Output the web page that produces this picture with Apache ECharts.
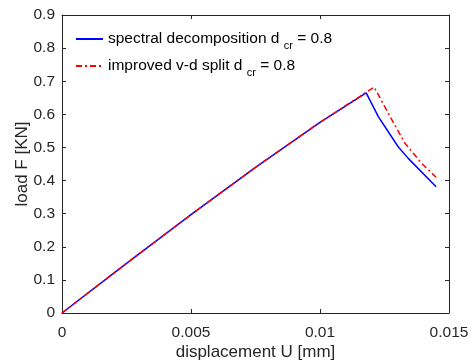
<!DOCTYPE html>
<html><head><meta charset="utf-8">
<script src="https://cdn.jsdelivr.net/npm/echarts@6/dist/echarts.min.js"></script>
<style>html,body{margin:0;padding:0;background:#fff}#c{width:473px;height:362px}</style>
</head><body><div id="c"></div>
<script>
var spectralU = [0, 0.0025, 0.005, 0.0075, 0.01, 0.01179, 0.01226, 0.01303, 0.01342, 0.0145];
var spectralF = [0, 0.150, 0.297, 0.440, 0.576, 0.665, 0.593, 0.502, 0.467, 0.381];
var improvedU = [0, 0.0025, 0.005, 0.0075, 0.01, 0.0121, 0.01265, 0.01329, 0.01394, 0.0145];
var improvedF = [0, 0.150, 0.297, 0.440, 0.576, 0.682, 0.603, 0.513, 0.452, 0.410];
var seriesNames = ['spectral decomposition d_cr = 0.8', 'improved v-d split d_cr = 0.8'];
var xTicks = [0, 0.005, 0.01, 0.015];
var yTicks = [0, 0.1, 0.2, 0.3, 0.4, 0.5, 0.6, 0.7, 0.8, 0.9];

function zip(a, b) { return a.map(function (v, i) { return [v, b[i]]; }); }
var FONT = '"Liberation Sans", Arial, sans-serif';
var TXT = '#262626';
var chart = echarts.init(document.getElementById('c'), null, { renderer: 'canvas' });
var axisCommon = {
  axisLine: { show: true, onZero: false, lineStyle: { color: TXT, width: 1 } },
  axisTick: { show: true, inside: true, length: 4, lineStyle: { color: TXT } },
  splitLine: { show: false }
};
chart.setOption({
  animation: false,
  textStyle: { fontFamily: FONT },
  grid: { left: 62, right: 24, top: 15, bottom: 49, containLabel: false, outerBoundsMode: 'none' },
  legend: {
    left: 70, top: 22, orient: 'vertical', itemWidth: 27, itemHeight: 10, itemGap: 3,
    itemStyle: { opacity: 0 },
    data: seriesNames,
    formatter: function (n) {
      var p = n.split('_cr');
      return '{a|' + p[0] + ' }{s|cr}{a|' + p[1] + '}';
    },
    textStyle: {
      color: '#000', fontSize: 15.5, fontFamily: FONT,
      rich: {
        a: { fontSize: 15.5, color: '#000', fontFamily: FONT, lineHeight: 18 },
        s: { fontSize: 11, color: '#000', fontFamily: FONT, padding: [13, 0, 0, 0], lineHeight: 14 }
      }
    }
  },
  xAxis: [
    Object.assign({
      type: 'value', min: 0, max: 0.015, interval: 0.005, position: 'bottom',
      name: 'displacement U [mm]', nameLocation: 'middle', nameGap: 31, nameMoveOverlap: false,
      nameTextStyle: { color: TXT, fontSize: 17, fontFamily: FONT },
      axisLabel: { color: TXT, fontSize: 15.5, margin: 12, fontFamily: FONT,
        formatter: function (v) { return xTicks.indexOf(+v.toFixed(3)) >= 0 ? String(+v.toFixed(3)) : ''; } }
    }, axisCommon),
    Object.assign({
      type: 'value', min: 0, max: 0.015, interval: 0.005, position: 'top',
      axisLabel: { show: false }
    }, axisCommon)
  ],
  yAxis: [
    Object.assign({
      type: 'value', min: 0, max: 0.9, interval: 0.1, position: 'left',
      name: 'load F [KN]', nameLocation: 'middle', nameGap: 31, nameMoveOverlap: false,
      nameTextStyle: { color: TXT, fontSize: 17, fontFamily: FONT },
      axisLabel: { color: TXT, fontSize: 15.5, margin: 7, fontFamily: FONT,
        formatter: function (v) { return String(+v.toFixed(1)); } }
    }, axisCommon),
    Object.assign({
      type: 'value', min: 0, max: 0.9, interval: 0.1, position: 'right',
      axisLabel: { show: false }
    }, axisCommon)
  ],
  series: [
    { name: seriesNames[0], type: 'line', data: zip(spectralU, spectralF), showSymbol: false, symbol: 'none',
      lineStyle: { color: '#0000ff', width: 1.5 }, itemStyle: { color: '#0000ff' }, z: 2 },
    { name: seriesNames[1], type: 'line', data: zip(improvedU, improvedF), showSymbol: false, symbol: 'none',
      lineStyle: { color: '#ff0000', width: 1.5, type: [6, 3, 2, 3] }, itemStyle: { color: '#ff0000' }, z: 3 }
  ]
});
</script></body></html>
